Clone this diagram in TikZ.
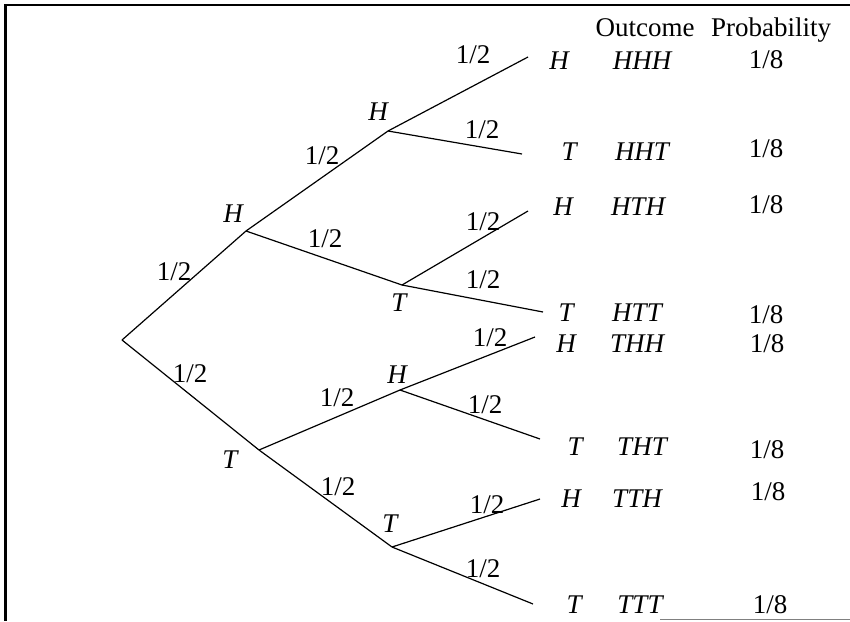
\documentclass[tikz,border=0pt]{standalone}
\usepackage{fontspec}
\setmainfont{Liberation Serif}
\begin{document}
\begin{tikzpicture}[x=1pt,y=-1pt,
  branch/.style={line width=1.2pt, black},
  txt/.style={font=\fontsize{27}{27}\selectfont, inner sep=0pt, anchor=base},
  wide/.style={txt},
  lett/.style={txt, font=\fontsize{27}{27}\selectfont\itshape},
  frac/.style={txt}]
\useasboundingbox (0,0) rectangle (850,621);
% frame
\draw[line width=2pt] (4,5) -- (850,5);
\draw[line width=3pt] (5,4) -- (5,621);
\draw[line width=1pt, gray] (660,619) -- (850,619);

% tree junctions
\coordinate (R) at (122,340);
\coordinate (H1) at (246,231);
\coordinate (T1) at (259,450);
\coordinate (HH) at (388,131);
\coordinate (HT) at (402,285);
\coordinate (TH) at (400,390);
\coordinate (TT) at (392,547);
% leaf ends
\coordinate (HHH) at (528,57);
\coordinate (HHT) at (522,154);
\coordinate (HTH) at (528,211);
\coordinate (HTT) at (543,312);
\coordinate (THH) at (535,337);
\coordinate (THT) at (540,439);
\coordinate (TTH) at (540,499);
\coordinate (TTT) at (533,604);

\draw[branch] (R) -- (H1);
\draw[branch] (R) -- (T1);
\draw[branch] (H1) -- (HH);
\draw[branch] (H1) -- (HT);
\draw[branch] (T1) -- (TH);
\draw[branch] (T1) -- (TT);
\draw[branch] (HH) -- (HHH);
\draw[branch] (HH) -- (HHT);
\draw[branch] (HT) -- (HTH);
\draw[branch] (HT) -- (HTT);
\draw[branch] (TH) -- (THH);
\draw[branch] (TH) -- (THT);
\draw[branch] (TT) -- (TTH);
\draw[branch] (TT) -- (TTT);

% junction labels
\node[lett] (lH1) at (233,222) {H};
\node[lett] (lHH) at (378,120) {H};
\node[lett] (lHT) at (399,311) {T};
\node[lett] (lTH) at (397,383) {H};
\node[lett] (lT1) at (230,468) {T};
\node[lett] (lTT) at (390,532) {T};

% branch probabilities
\node[frac] (p1) at (174,280) {1/2};
\node[frac] (p2) at (190,382) {1/2};
\node[frac] (p3) at (322,164) {1/2};
\node[frac] (p4) at (325,247) {1/2};
\node[frac] (p5) at (337,406) {1/2};
\node[frac] (p6) at (338,495) {1/2};
\node[frac] (p7) at (473,63) {1/2};
\node[frac] (p8) at (482,138) {1/2};
\node[frac] (p9) at (483,230) {1/2};
\node[frac] (p10) at (483,288) {1/2};
\node[frac] (p11) at (490,346) {1/2};
\node[frac] (p12) at (485,413) {1/2};
\node[frac] (p13) at (487,513) {1/2};
\node[frac] (p14) at (483,577) {1/2};

% header
\node[wide] (hout) at (645,36) {Outcome};
\node[wide] (hprob) at (771,36) {Probability};

% leaf letters
\node[lett] (e1) at (559,69) {H};
\node[lett] (e2) at (569,160) {T};
\node[lett] (e3) at (563,215) {H};
\node[lett] (e4) at (566,321) {T};
\node[lett] (e5) at (566,352) {H};
\node[lett] (e6) at (575,455) {T};
\node[lett] (e7) at (571,507) {H};
\node[lett] (e8) at (574,613) {T};

% outcomes
\node[lett] (o1) at (642,69) {HHH};
\node[lett] (o2) at (642,160) {HHT};
\node[lett] (o3) at (638,215) {HTH};
\node[lett] (o4) at (637,321) {HTT};
\node[lett] (o5) at (637,352) {THH};
\node[lett] (o6) at (642,455) {THT};
\node[lett] (o7) at (637,507) {TTH};
\node[lett] (o8) at (640,613) {TTT};

% probabilities
\node[frac] (q1) at (766,68) {1/8};
\node[frac] (q2) at (766,157) {1/8};
\node[frac] (q3) at (766,213) {1/8};
\node[frac] (q4) at (766,323) {1/8};
\node[frac] (q5) at (767,352) {1/8};
\node[frac] (q6) at (767,458) {1/8};
\node[frac] (q7) at (768,500) {1/8};
\node[frac] (q8) at (770,613) {1/8};
\end{tikzpicture}
\end{document}
